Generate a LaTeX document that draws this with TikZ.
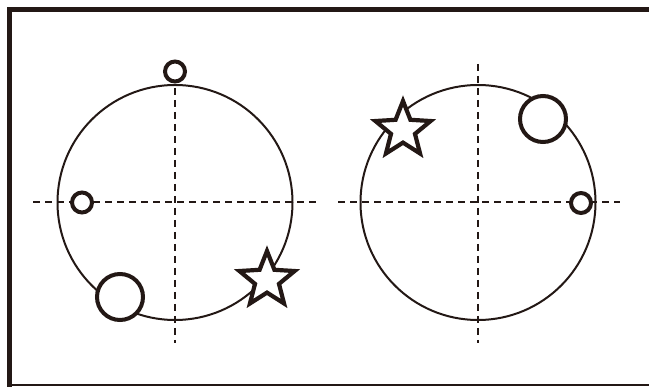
\documentclass[tikz,border=0pt]{standalone}
\usetikzlibrary{shapes.geometric}
\definecolor{ink}{HTML}{231815}
\begin{document}
\begin{tikzpicture}[x=1pt,y=-1pt,
  orbit/.style={ink, line width=2pt},
  axis/.style={ink, line width=2pt, dash pattern=on 7pt off 5pt},
  ring/.style={circle, draw=ink, line width=4pt, fill=white, inner sep=0pt},
  starmark/.style={star, star points=5, star point ratio=2.3, minimum size=58pt, inner sep=0pt, draw=ink, line width=4.2pt, fill=white}]
\useasboundingbox (0,0) rectangle (649,387);
% frame
\draw[ink, line width=5pt] (9.5,387) -- (9.5,9.5) -- (649,9.5);
\draw[ink, line width=2.5pt] (7,385) -- (649,385);
% left orbit
\draw[axis] (33,202.5) -- (318,202.5);
\draw[axis] (175,64) -- (175,343);
\draw[orbit] (175,202.5) circle[radius=117.5pt];
\node[ring, minimum size=20pt] (topL) at (175,71.5) {};
\node[ring, minimum size=20pt] (sideL) at (82,202.5) {};
\node[ring, minimum size=46pt] (bigL) at (120,297) {};
\node[starmark] (starL) at (267,280) {};
% right orbit
\draw[axis] (338,202.5) -- (620,202.5);
\draw[axis] (478,64) -- (478,343);
\draw[orbit] (478,202.5) circle[radius=117.5pt];
\node[starmark] (starR) at (403,130) {};
\node[ring, minimum size=46pt] (bigR) at (543,119) {};
\node[ring, minimum size=20pt] (sideR) at (581,203) {};
\end{tikzpicture}
\end{document}
